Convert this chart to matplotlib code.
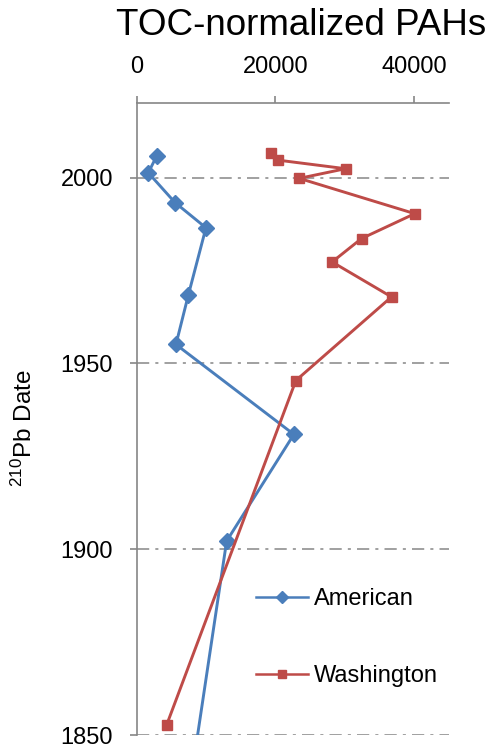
import matplotlib
matplotlib.use("Agg")
import matplotlib.pyplot as plt

plt.rcParams['font.family'] = ['Liberation Sans', 'DejaVu Sans']
plt.rcParams['mathtext.fontset'] = 'custom'
plt.rcParams['mathtext.rm'] = 'Liberation Sans'
plt.rcParams['mathtext.default'] = 'regular'

# TOC-normalized PAH concentrations vs 210Pb date
american_pah = [2900, 1700, 5540, 10000, 7450, 5680, 22660, 12980, 8000]
american_year = [2005.8, 2001.3, 1993.3, 1986.5, 1968.3, 1955.1, 1930.9, 1902.2, 1840.0]

washington_pah = [19350, 20400, 30100, 23430, 40070, 32400, 28170, 36720, 22950, 4340]
washington_year = [2006.7, 2004.7, 2002.4, 1999.8, 1990.3, 1983.6, 1977.3, 1967.9, 1945.4, 1852.7]

x_ticks = [0, 20000, 40000]
y_ticks = [1850, 1900, 1950, 2000]

W, H = 491, 747
fig = plt.figure(figsize=(W / 100, H / 100), dpi=100)
ax = fig.add_axes([136.5 / W, 12 / H, (449 - 136.5) / W, (735 - 103.3) / H])

blue = '#4a7ebb'
red = '#be4b48'
grey = '#868686'

ax.plot(american_pah, american_year, color=blue, lw=2.1, marker='D', ms=8,
        label='American', zorder=3)
ax.plot(washington_pah, washington_year, color=red, lw=2.1, marker='s', ms=7,
        label='Washington', zorder=3)

ax.set_xlim(0, 45000)
ax.set_ylim(1850, 2020)

ax.xaxis.tick_top()
ax.set_xticks(x_ticks)
ax.set_yticks(y_ticks)
ax.tick_params(axis='x', direction='out', length=5, width=1.2, color=grey,
               labelsize=17, pad=13)
ax.tick_params(axis='y', direction='out', length=5, width=1.2, color=grey,
               labelsize=17, pad=12)

for side in ('right', 'bottom'):
    ax.spines[side].set_visible(False)
for side in ('left', 'top'):
    ax.spines[side].set_color(grey)
    ax.spines[side].set_linewidth(1.2)

ax.yaxis.grid(True, color=grey, linestyle=(0, (8, 4, 2, 4)), linewidth=1.1)
ax.set_axisbelow(True)

fig.text(301 / W, 1 - 35 / H, 'TOC-normalized PAHs', fontsize=26.5,
         ha='center', va='baseline')
fig.text(24 / W, 1 - 428 / H, r'$^{210}$Pb Date', fontsize=17.5,
         rotation=90, ha='center', va='center')

leg = ax.legend(loc='upper left', bbox_to_anchor=(256 / W, 1 - 588 / H),
                bbox_transform=fig.transFigure, frameon=False, fontsize=17,
                handlelength=2.2, handletextpad=0.25, labelspacing=2.35,
                borderpad=0, borderaxespad=0, markerscale=0.8)
for line in leg.get_lines():
    line.set_linewidth(1.8)

fig.savefig('out.png', dpi=100)
